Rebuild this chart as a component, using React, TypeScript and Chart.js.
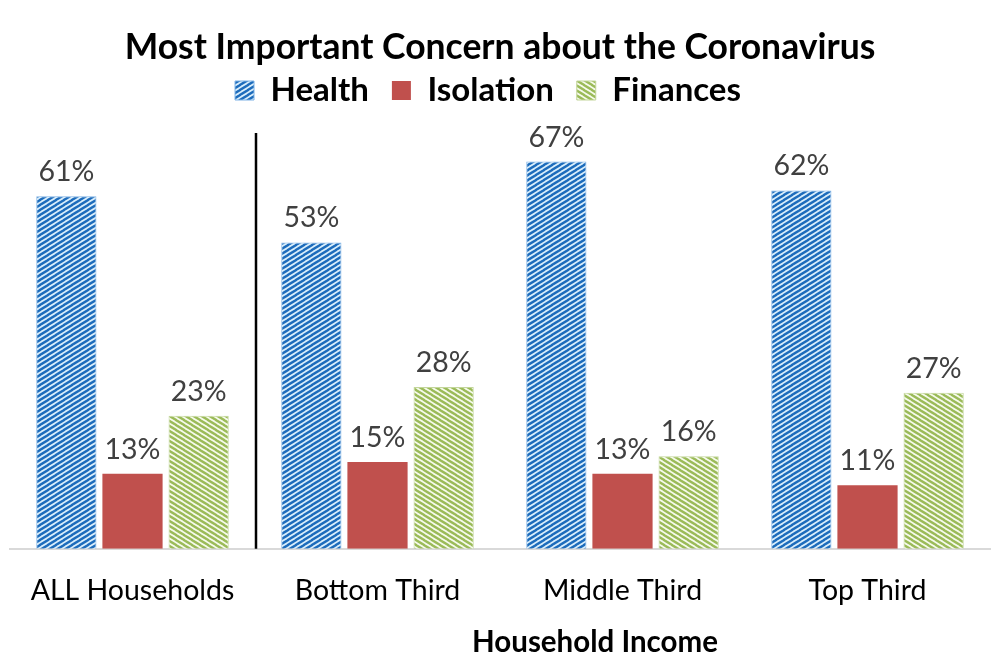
import React, { useEffect, useRef } from "react";
import { Chart, registerables } from "chart.js";

Chart.register(...registerables);

const categories = ["ALL Households", "Bottom Third", "Middle Third", "Top Third"];
const healthValues = [61, 53, 67, 62];
const isolationValues = [13, 15, 13, 11];
const financesValues = [23, 28, 16, 27];
const seriesNames = ["Health", "Isolation", "Finances"];

const FONT = "Lato, 'Open Sans', sans-serif";

function makeStripes(bg: string, color: string, dir: "/" | "\\", w = 8, h = 5, lw = 2.4): CanvasPattern | string {
  const c = document.createElement("canvas");
  c.width = w;
  c.height = h;
  const ctx = c.getContext("2d");
  if (!ctx) return color;
  ctx.fillStyle = bg;
  ctx.fillRect(0, 0, w, h);
  ctx.strokeStyle = color;
  ctx.lineWidth = lw;
  for (let k = -1; k <= 1; k++) {
    ctx.beginPath();
    if (dir === "/") {
      ctx.moveTo(k * w - 1, h + h / w);
      ctx.lineTo(k * w + w + 1, -h / w);
    } else {
      ctx.moveTo(k * w - 1, -h / w);
      ctx.lineTo(k * w + w + 1, h + h / w);
    }
    ctx.stroke();
  }
  const p = ctx.createPattern(c, "repeat");
  return p || color;
}

const valueLabels = {
  id: "valueLabels",
  afterDatasetsDraw(chart: any) {
    const ctx = chart.ctx;
    ctx.save();
    ctx.font = `28.5px ${FONT}`;
    ctx.fillStyle = "#404040";
    ctx.textAlign = "center";
    ctx.textBaseline = "alphabetic";
    chart.data.datasets.forEach((ds: any, i: number) => {
      const meta = chart.getDatasetMeta(i);
      meta.data.forEach((bar: any, j: number) => {
        ctx.fillText(`${ds.data[j]}%`, bar.x, bar.y - 15);
      });
    });
    ctx.restore();
  },
};

const separator = {
  id: "separator",
  afterDatasetsDraw(chart: any) {
    const xs = chart.scales.x;
    const x = (xs.getPixelForValue(0) + xs.getPixelForValue(1)) / 2 + 1;
    const ctx = chart.ctx;
    ctx.save();
    ctx.strokeStyle = "#000000";
    ctx.lineWidth = 2.5;
    ctx.beginPath();
    ctx.moveTo(x, 133);
    ctx.lineTo(x, chart.chartArea.bottom);
    ctx.stroke();
    ctx.restore();
  },
};

const layoutTweaks = {
  id: "layoutTweaks",
  afterLayout(chart: any) {
    if (chart.legend) {
      chart.legend.left -= 12;
      chart.legend.right -= 12;
    }
    const xs = chart.scales.x;
    if (xs && !xs.__shifted) {
      const orig = xs.drawTitle.bind(xs);
      xs.drawTitle = function () {
        const ctx = chart.ctx;
        ctx.save();
        ctx.translate(95, 0);
        orig();
        ctx.restore();
      };
      xs.__shifted = true;
    }
  },
};

export default function App() {
  const ref = useRef<HTMLCanvasElement | null>(null);
  useEffect(() => {
    if (!ref.current) return;
    const healthPat = makeStripes("#d9eefb", "#1d6cbc", "/");
    const finPat = makeStripes("#f6faec", "#9bbb59", "\\");
    const chart = new Chart(ref.current, {
      type: "bar",
      data: {
        labels: categories,
        datasets: [
          {
            label: seriesNames[0],
            data: healthValues,
            backgroundColor: healthPat as any,
            borderColor: "#7fb2e5",
            borderWidth: 1,
          },
          {
            label: seriesNames[1],
            data: isolationValues,
            backgroundColor: "#c0504d",
            borderColor: "#c0504d",
            borderWidth: 0,
          },
          {
            label: seriesNames[2],
            data: financesValues,
            backgroundColor: finPat as any,
            borderColor: "#c3d69b",
            borderWidth: 1,
          },
        ],
      },
      options: {
        animation: false,
        responsive: false,
        maintainAspectRatio: false,
        devicePixelRatio: 1,
        datasets: {
          bar: { categoryPercentage: 0.81, barPercentage: 0.91 },
        },
        layout: { padding: { left: 10, right: 10, top: 0, bottom: 10.25 } },
        plugins: {
          title: {
            display: true,
            text: "Most Important Concern about the Coronavirus",
            color: "#000000",
            font: { family: FONT, size: 35.5, weight: "bold", lineHeight: 1 },
            padding: { top: 29.5, bottom: -14 },
          },
          legend: {
            display: true,
            position: "top",
            labels: {
              color: "#000000",
              font: { family: FONT, size: 33, weight: "bold" },
              boxWidth: 19,
              boxHeight: 19,
              padding: 23,
            },
          },
          tooltip: { enabled: false },
        },
        scales: {
          x: {
            grid: { display: false, drawTicks: false },
            border: { display: true, color: "#d9d9d9", width: 2 },
            ticks: {
              color: "#000000",
              font: { family: FONT, size: 28.5, lineHeight: 1.2 },
              padding: 25,
            },
            title: {
              display: true,
              text: "Household Income",
              color: "#000000",
              font: { family: FONT, size: 29.5, weight: "bold", lineHeight: 1 },
              padding: { top: -5.75, bottom: 0 },
            },
          },
          y: {
            display: false,
            beginAtZero: true,
            min: 0,
            max: 74.7,
          },
        },
      },
      plugins: [valueLabels, separator, layoutTweaks],
    });
    return () => chart.destroy();
  }, []);
  return (
    <div style={{ position: "fixed", left: 0, top: 0, width: 1000, height: 667, background: "#ffffff" }}>
      <canvas ref={ref} width={1000} height={667} style={{ width: 1000, height: 667 }} />
    </div>
  );
}
